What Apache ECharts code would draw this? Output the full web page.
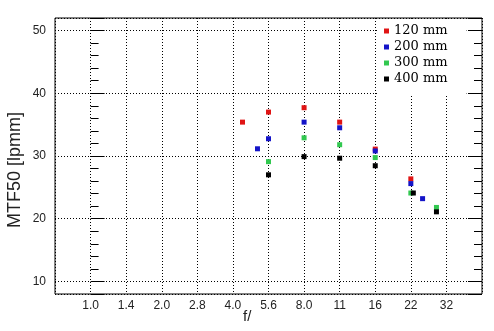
<!DOCTYPE html>
<html>
<head>
<meta charset="utf-8">
<script src="https://cdn.jsdelivr.net/npm/echarts@6/dist/echarts.min.js"></script>
<style>html,body{margin:0;padding:0;background:#fff}#c{width:494px;height:331px}</style>
</head>
<body>
<div id="c"></div>
<script>
// x positions are in aperture-stop units: 0 = f/1.0, 1 = f/1.4, ... 10 = f/32
var fLabels = ["1.0","1.4","2.0","2.8","4.0","5.6","8.0","11","16","22","32"];
var seriesNames = ["120 mm","200 mm","300 mm","400 mm"];
var seriesColors = ["#e01414","#1414c8","#32c850","#000000"];
var d120 = [[4.27,35.4],[5,37.0],[6,37.7],[7,35.4],[8,31.1],[9,26.35]];
var d200 = [[4.69,31.15],[5,32.75],[6,35.4],[7,34.5],[8,30.8],[9,25.6],[9.33,23.2]];
var d300 = [[5,29.1],[6,32.9],[7,31.8],[8,29.75],[9,24.1],[9.72,21.8]];
var d400 = [[5,27.0],[6,29.9],[7,29.65],[8,28.45],[9.07,24.1],[9.72,21.1]];
var allData = [d120,d200,d300,d400];

var chart = echarts.init(document.getElementById('c'), null, {renderer:'canvas'});
var dotted = {type:[1,2], color:'#000', width:1};
var yBase = {
  type:'value', min:8, max:52,
  axisLine:{show:false},
  splitLine:{show:false},
  axisTick:{show:true, inside:true, length:14, lineStyle:{color:'#000'}},
  minorTick:{show:true, splitNumber:5, length:8, lineStyle:{color:'#000'}},
  minorSplitLine:{show:false}
};
var option = {
  animation:false,
  backgroundColor:'#fff',
  grid:{left:55, top:18, width:427, height:276, show:true, borderColor:'#000', borderWidth:1, backgroundColor:'transparent'},
  xAxis:{
    type:'value', min:-1, max:11, interval:1,
    axisLine:{show:false}, axisTick:{show:false},
    splitLine:{show:true, lineStyle:dotted},
    axisLabel:{
      margin:6, color:'#222', fontFamily:'Liberation Sans, Arial, sans-serif', fontSize:12,
      formatter:function(v){ var i=Math.round(v); return (i>=0 && i<fLabels.length) ? fLabels[i] : ''; }
    }
  },
  yAxis:[
    Object.assign({}, yBase, {
      position:'left',
      splitLine:{show:true, lineStyle:dotted},
      axisLabel:{show:true, margin:9, color:'#222', fontFamily:'Liberation Sans, Arial, sans-serif', fontSize:12,
        formatter:function(v){ return (v%10===0) ? String(v) : ''; }}
    }),
    Object.assign({}, yBase, {position:'right', axisLabel:{show:false}})
  ],
  legend:{
    show:true, orient:'vertical', left:377, top:19,
    padding:[4,19,8,7], itemGap:0, itemWidth:5, itemHeight:5, itemStyle:{borderWidth:0},
    backgroundColor:'#fff',
    icon:'rect',
    textStyle:{fontFamily:'DejaVu Serif, serif', fontSize:13, color:'#000', lineHeight:16, padding:[0,0,0,0]},
    data:seriesNames
  },
  graphic:[
    {type:'text', left:6, top:112, rotation:Math.PI/2, style:{text:'MTF50 [lpmm]', font:'18px "Liberation Sans", Arial, sans-serif', fill:'#222'}},
    {type:'text', left:243, top:309, style:{text:'f/', font:'15px "Liberation Sans", Arial, sans-serif', fill:'#222'}}
  ],
  series: allData.map(function(d,i){
    return {name:seriesNames[i], type:'scatter', yAxisIndex:0, data:d, symbol:'rect', symbolSize:5,
      itemStyle:{color:seriesColors[i], opacity:1}, emphasis:{disabled:true}, z:2+i};
  })
};
chart.setOption(option);
</script>
</body>
</html>
